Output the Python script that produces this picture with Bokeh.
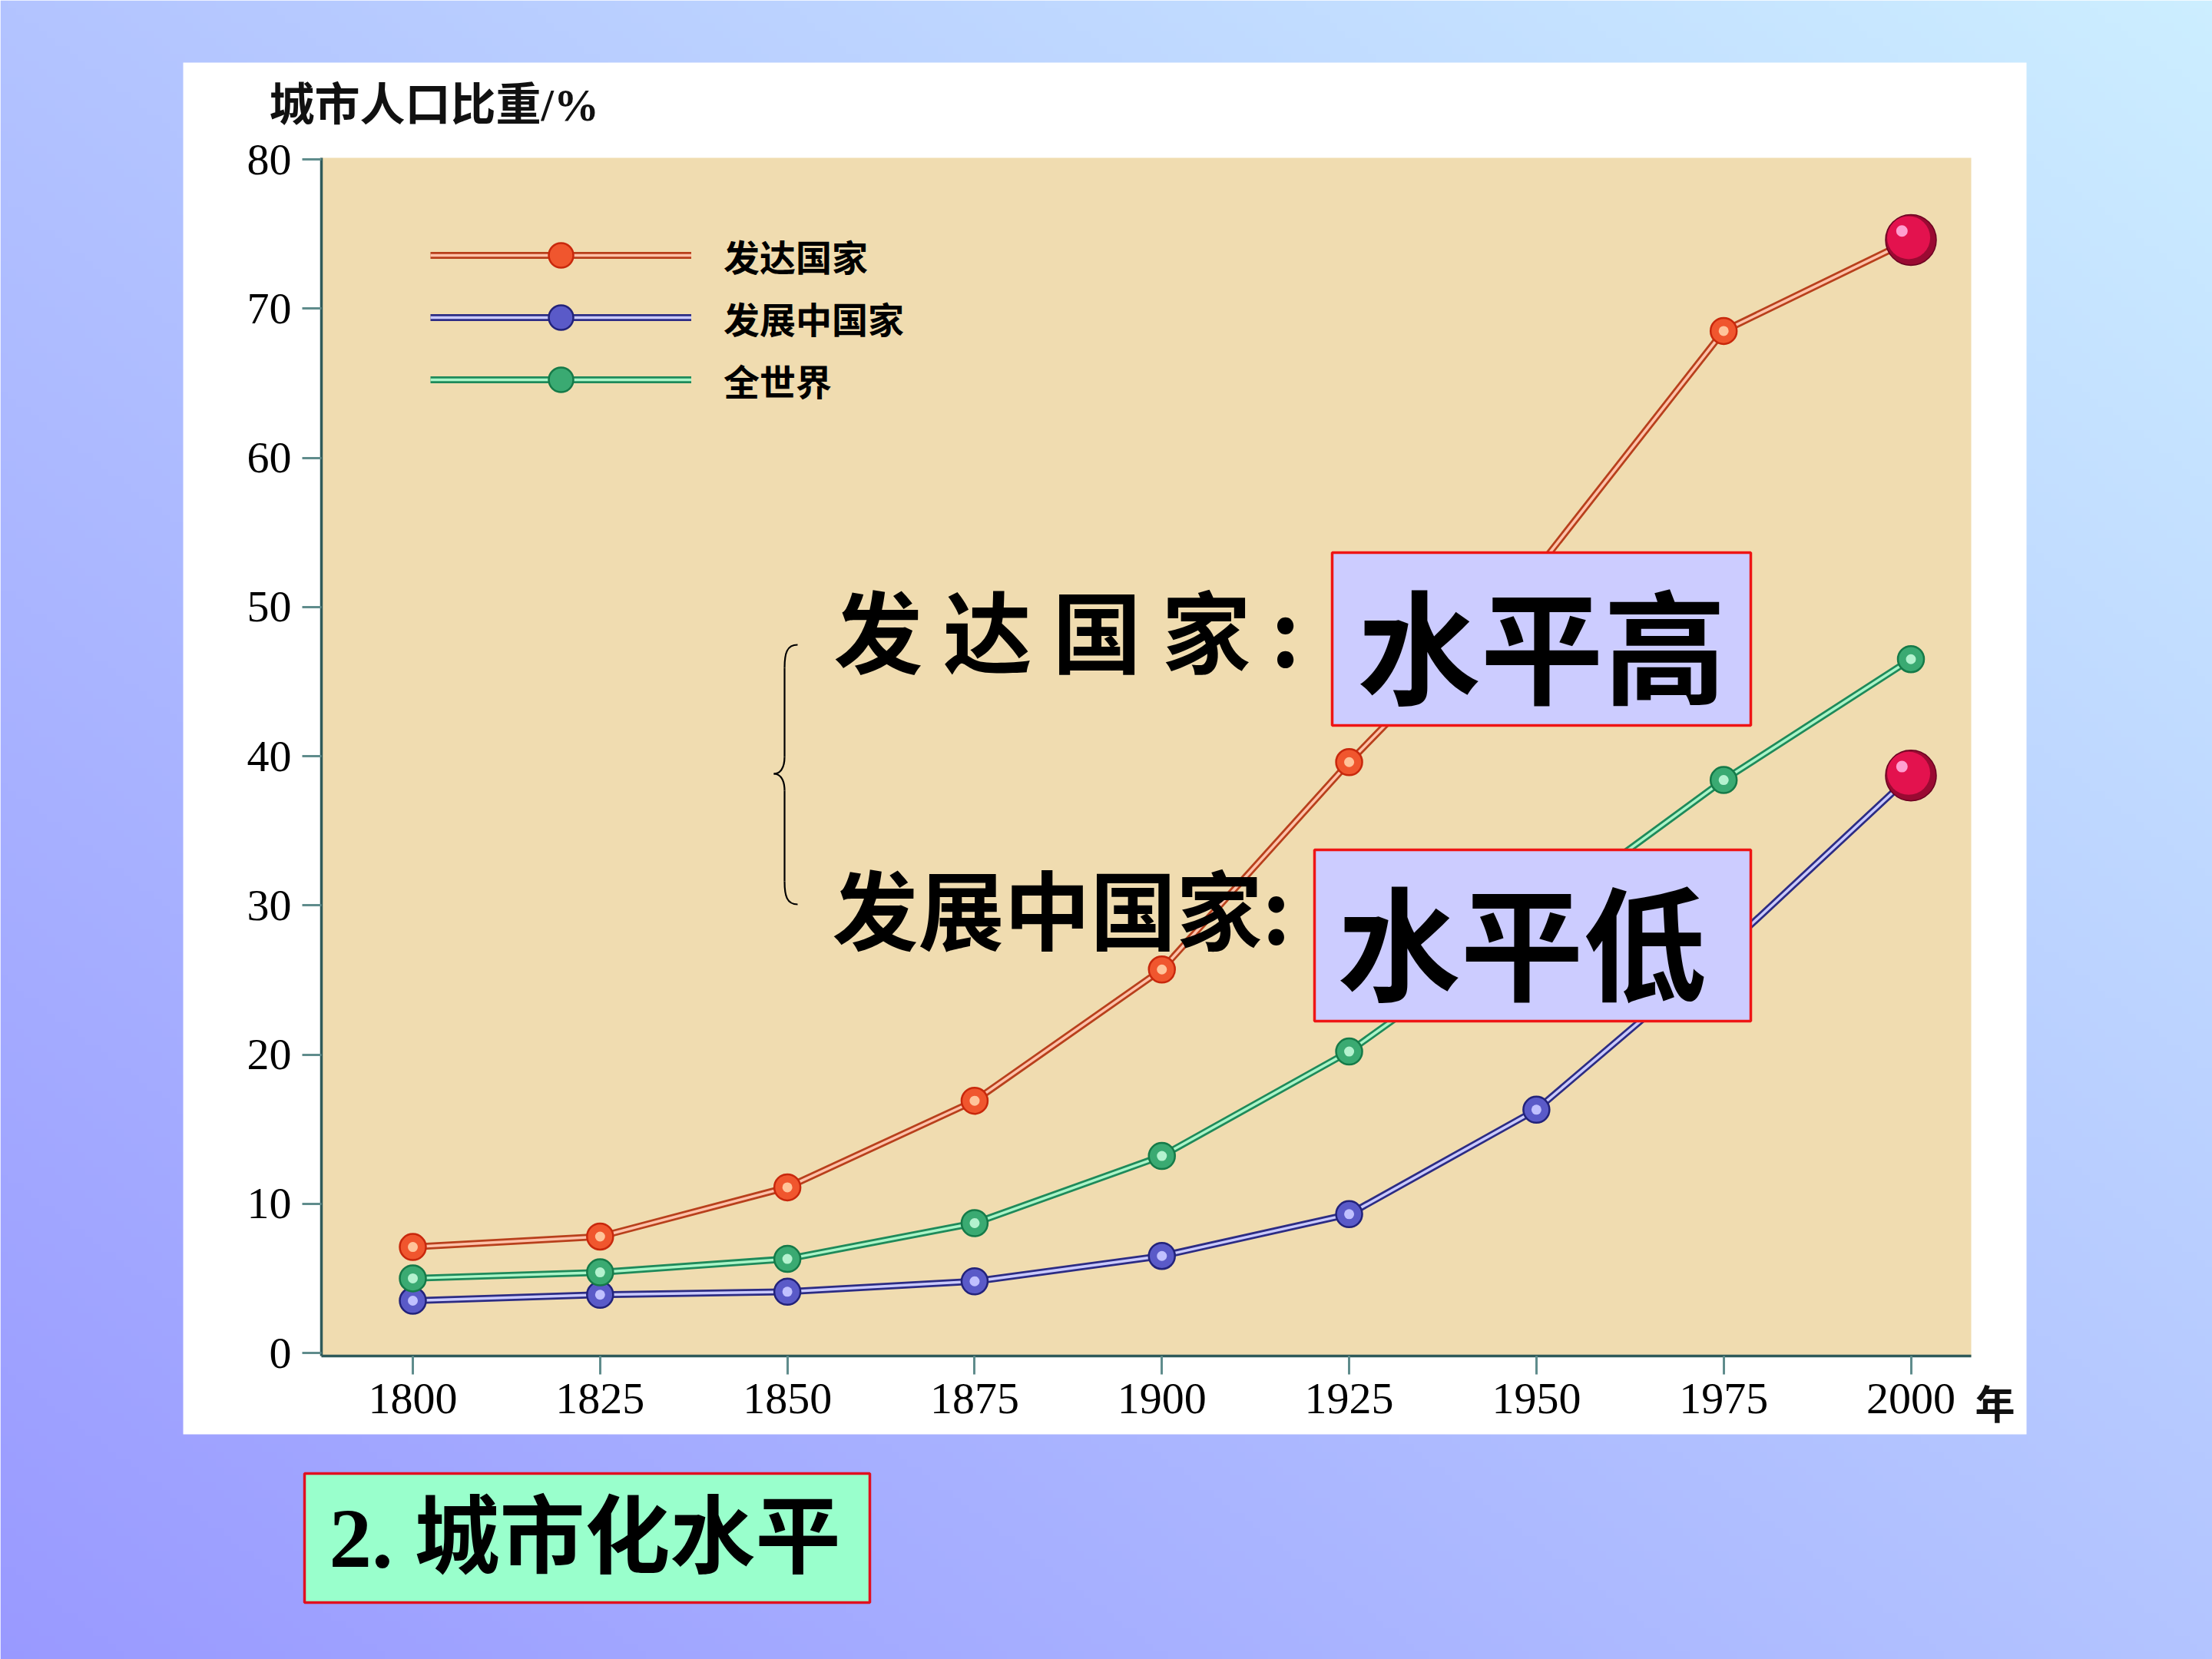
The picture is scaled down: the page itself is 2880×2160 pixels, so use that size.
import numpy as np
from bokeh.plotting import figure
from bokeh.models import Range1d, LinearAxis, FixedTicker, Legend, LegendItem, ColumnDataSource
from bokeh.core.properties import value
from bokeh.transform import dodge
from bokeh.embed import file_html
from bokeh.resources import INLINE

# ---------------- data ----------------
years = [1800, 1825, 1850, 1875, 1900, 1925, 1950, 1975, 2000]
developed = [7.1, 7.8, 11.1, 16.9, 25.7, 39.6, 52.5, 68.5, 74.6]
developing = [3.5, 3.9, 4.1, 4.8, 6.5, 9.3, 16.3, 27.0, 38.7]
world = [5.0, 5.4, 6.3, 8.7, 13.2, 20.2, 29.2, 38.4, 46.5]
series_names = ["发达国家", "发展中国家", "全世界"]
y_ticks = [0, 10, 20, 30, 40, 50, 60, 70, 80]
x_ticks = years
y_title = "城市人口比重/%"
x_unit = "年"
note_developed = "发 达 国 家 :"
note_developing = "发展中国家:"
level_high = "水平高"
level_low = "水平低"
slide_title = "2. 城市化水平"

# ---------------- layout (page pixels) ----------------
W, H, M = 2880, 2160, 0
PX_1800, PX_2000 = 537.0, 2487.5      # page x of first / last year tick
PY_0, PY_80 = 1761.0, 207.0           # page y of 0 % / 80 % tick
sx = (PX_2000 - PX_1800) / 200.0
sy = (PY_0 - PY_80) / 80.0
def xdata(px):
    return 1800 + (px - PX_1800) / sx
def ydata(py):
    return (PY_0 - py) / sy

x_start, x_end = xdata(M), xdata(M + W)
y_start, y_end = ydata(M + H), ydata(M)

p = figure(width=W, height=H, x_range=Range1d(x_start, x_end), y_range=Range1d(y_start, y_end),
           x_axis_location=None, y_axis_location=None, toolbar_location=None,
           output_backend="svg", min_border=0, outline_line_color=None,
           background_fill_alpha=0, border_fill_alpha=0)
p.grid.visible = False
p.extra_x_ranges = {"px": Range1d(M, M + W)}
p.extra_y_ranges = {"py": Range1d(M + H, M), "pyu": Range1d(0, H)}
PG = dict(x_range_name="px", y_range_name="py")

# ---------------- background gradient ----------------
GW, GH = 288, 216
img = np.empty((GH, GW), dtype=np.uint32)
view = img.view(dtype=np.uint8).reshape((GH, GW, 4))
fx = (np.arange(GW) + 0.5) / GW
fu = (np.arange(GH) + 0.5) / GH          # fraction from bottom
t = (fx[None, :] + fu[:, None]) / 2.0
c0 = np.array([153, 153, 255]); c1 = np.array([204, 238, 255])
for k in range(3):
    view[:, :, k] = np.round(c0[k] + (c1[k] - c0[k]) * t).astype(np.uint8)
view[:, :, 3] = 255
p.image_rgba(image=[img], x=M, y=0, dw=W, dh=H, x_range_name="px", y_range_name="pyu", level="image")

# white panel and tan plotting area
p.quad(left=238, right=2638, top=81, bottom=1867, fill_color="white", line_color=None, level="underlay", **PG)
p.quad(left=418, right=2566, top=205, bottom=1766, fill_color="#f0dcb0", line_color=None, level="underlay", **PG)

# ---------------- series ----------------
styles = [
    dict(outer="#b8401c", inner="#ffc2aa", fill="#f0562e", edge="#c8280c", hi="#ffc49a"),
    dict(outer="#2c2c84", inner="#cacaff", fill="#5a5ac8", edge="#22227a", hi="#c0c0ff"),
    dict(outer="#1e8a5a", inner="#aaf5c8", fill="#3aaa72", edge="#157a48", hi="#b4f2cf"),
]
all_series = [developed, developing, world]
sphere_flags = [True, True, False]
legend_items = []
for name, vals, st, sph in zip(series_names, all_series, styles, sphere_flags):
    r_o = p.line(years, vals, line_width=9, line_color=st["outer"], line_join="round")
    r_i = p.line(years, vals, line_width=3.5, line_color=st["inner"], line_join="round")
    mx = years[:-1] if sph else years
    my = vals[:-1] if sph else vals
    r_m = p.scatter(mx, my, size=34, fill_color=st["fill"], line_color=st["edge"], line_width=2.5)
    p.scatter(mx, my, size=13, fill_color=st["hi"], line_color=None)
    legend_items.append(LegendItem(label=name, renderers=[r_o, r_i, r_m]))
    if sph:
        src = ColumnDataSource(dict(x=[years[-1]], y=[vals[-1]]))
        p.scatter("x", "y", source=src, size=66, fill_color="#9a0a32", line_color="#6a0020", line_width=1.5)
        p.scatter(dodge("x", -0.3), dodge("y", 0.15), source=src, size=56, fill_color="#e3124e", line_color=None)
        p.scatter(dodge("x", -1.2), dodge("y", 0.6), source=src, size=15, fill_color="#ff9fd0", line_color=None)

legend = Legend(items=legend_items, location=(552 + 8, H - 534), orientation="vertical",
                glyph_width=340, glyph_height=80, spacing=1, padding=0, margin=0,
                label_standoff=42, label_text_font="Noto Sans CJK SC", label_text_font_size="47px",
                label_text_font_style="bold", label_text_color="black",
                background_fill_alpha=0, border_line_alpha=0)
p.add_layout(legend)

# ---------------- axes ----------------
yaxis_x = xdata(418)
xaxis_y = ydata(1765)
common = dict(axis_line_color="#2e5a5a", axis_line_width=3.5, major_tick_line_color="#5f8c8c",
              major_tick_line_width=3, major_tick_in=0, minor_tick_line_color=None,
              major_label_text_font="Liberation Serif", major_label_text_font_size="58px",
              major_label_text_color="black")
yaxis = LinearAxis(fixed_location=yaxis_x, bounds=(xaxis_y, ydata(205)),
                   ticker=FixedTicker(ticks=y_ticks), major_tick_out=25, major_label_standoff=14, **common)
xaxis = LinearAxis(fixed_location=xaxis_y, bounds=(yaxis_x, xdata(2566)),
                   ticker=FixedTicker(ticks=x_ticks), major_tick_out=24, major_label_standoff=12, **common)
p.add_layout(yaxis, "left")
p.add_layout(xaxis, "below")

CJK = value("Noto Sans CJK SC")
MIX = value("Liberation Serif, Noto Sans CJK SC")
p.text(x=[350], y=[136], text=[y_title], text_font=MIX, text_font_size="59px", text_font_style="bold",
       text_align="left", text_baseline="middle", text_color="#111111", **PG)
p.text(x=[2597], y=[1825], text=[x_unit], text_font=CJK, text_font_size="52px", text_font_style="bold",
       text_align="center", text_baseline="middle", text_color="#111111", **PG)

# ---------------- annotations ----------------
p.quad(left=[1734, 1711], right=[2279, 2279], top=[719, 1106], bottom=[944, 1329],
       fill_color="#ccccff", line_color="#ee1515", line_width=3.5, **PG)
p.text(x=[1085, 1083], y=[816, 1179], text=[note_developed, note_developing], text_font=CJK,
       text_font_size=["116px", "112px"], text_font_style="bold", text_align="left",
       text_baseline="middle", text_color="black", **PG)
p.text(x=[2007, 1981], y=[834, 1220], text=[level_high, level_low], text_font=CJK,
       text_font_size="160px", text_font_style="bold", text_align="center",
       text_baseline="middle", text_color="black", **PG)

# brace
p.bezier(x0=[1038, 1021, 1007, 1021], y0=[839, 985, 1007, 1147],
         x1=[1021, 1007, 1021, 1038], y1=[869, 1007, 1029, 1177],
         cx0=[1024, 1021, 1015, 1021], cy0=[839, 1000, 1007, 1166],
         cx1=[1021, 1015, 1021, 1024], cy1=[850, 1007, 1014, 1177],
         line_color="black", line_width=2.2, **PG)
p.segment(x0=[1021, 1021], y0=[869, 1029], x1=[1021, 1021], y1=[985, 1147],
          line_color="black", line_width=2.2, **PG)

# slide caption
p.quad(left=396, right=1132, top=1918, bottom=2086, fill_color="#99ffcc", line_color="#e01020",
       line_width=3.5, **PG)
p.text(x=[428], y=[2002], text=[slide_title], text_font=MIX, text_font_size="111px",
       text_font_style="bold", text_align="left", text_baseline="middle", text_color="black", **PG)

open("out.html", "w", encoding="utf-8").write(file_html(p, INLINE))
